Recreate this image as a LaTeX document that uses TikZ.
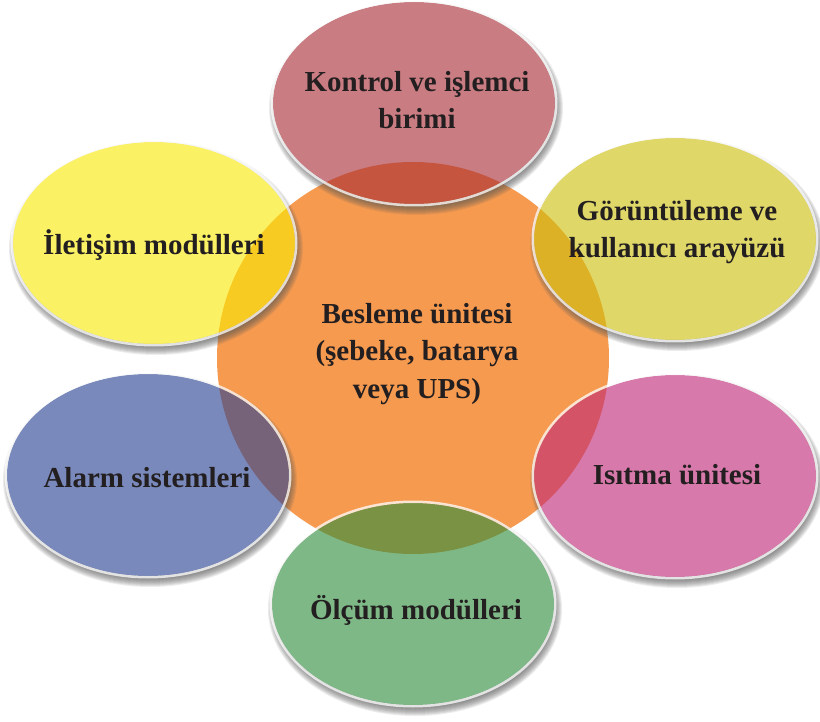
\documentclass[tikz,border=0pt]{standalone}
\usepackage{fontspec}
\setmainfont{Liberation Serif}
\usetikzlibrary{calc,shapes.geometric}
\definecolor{txt}{HTML}{231F20}
\definecolor{corefill}{RGB}{246,154,80}
\definecolor{cred}{RGB}{168,44,53}
\definecolor{cyel}{RGB}{250,234,8}
\definecolor{colive}{RGB}{206,192,13}
\definecolor{cpink}{RGB}{192,40,118}
\definecolor{cblue}{RGB}{40,66,147}
\definecolor{cgreen}{RGB}{47,142,61}
\tikzset{
  lbl/.style={font=\fontsize{29}{37.5}\selectfont\bfseries, text=txt, align=center, inner sep=0pt},
  bubble/.style={ellipse, minimum width=282pt, minimum height=202pt, inner sep=0pt, outer sep=0pt, fill opacity=0.62},
  corestyle/.style={circle, minimum size=392pt, inner sep=0pt, fill=corefill},
}
\newcommand\mybubble[3]{% #1 name, #2 centre, #3 colour
  \coordinate (#1c) at (#2);
  \begin{scope}[even odd rule]
    \clip (-30,-30) rectangle (850,752) (#1c) ellipse [x radius=141pt, y radius=101pt];
    \foreach \k in {-2,...,6}{
      \fill[black!65, fill opacity=0.11] ($(#1c)+(2,5)$) ellipse [x radius={(141+\k)*1pt}, y radius={(101+\k)*1pt}];
    }
  \end{scope}
  \node[bubble, fill=#3] (#1) at (#1c) {};
  \draw[white, line width=2.5pt, draw opacity=0.75] (#1c) ellipse [x radius=142.25pt, y radius=102.25pt];
}
\begin{document}
\begin{tikzpicture}[x=1pt,y=-1pt]
\useasboundingbox (0,0) rectangle (820,722);
\fill[white] (0,0) rectangle (820,722);
\node[corestyle] (core) at (413,358) {};
\mybubble{kontrolb}{414,103}{cred}
\mybubble{gorb}{675,239}{colive}
\mybubble{iletb}{154,243}{cyel}
\mybubble{alarmb}{148,475}{cblue}
\mybubble{isitb}{675,476}{cpink}
\mybubble{olcb}{413,604}{cgreen}
\node[lbl] (coretext) at (417,354) {Besleme ünitesi\\(şebeke, batarya\\veya UPS)};
\node[lbl] (kontrol) at (417,100) {Kontrol ve işlemci\\birimi};
\node[lbl] (gor) at (677,232) {Görüntüleme ve\\kullanıcı arayüzü};
\node[lbl] (ilet) at (154,245) {İletişim modülleri};
\node[lbl] (alarm) at (147,478) {Alarm sistemleri};
\node[lbl] (isit) at (677,475) {Isıtma ünitesi};
\node[lbl] (olc) at (416,610) {Ölçüm modülleri};
\end{tikzpicture}
\end{document}
